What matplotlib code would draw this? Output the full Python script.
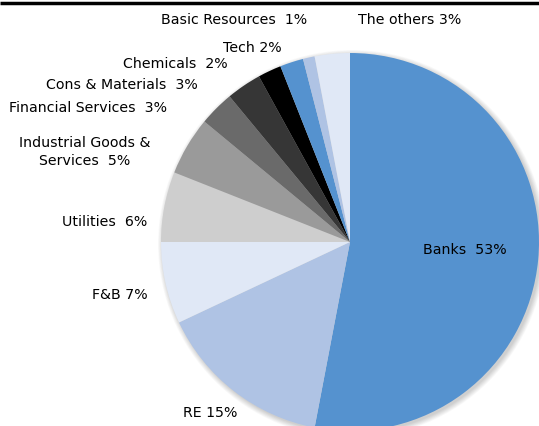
import matplotlib.pyplot as plt
from matplotlib.patches import Circle

# Sector weights, clockwise from 12 o'clock
sectors = ['Banks', 'RE', 'F&B', 'Utilities', 'Industrial Goods &\nServices',
           'Financial Services', 'Cons & Materials', 'Chemicals', 'Tech',
           'Basic Resources', 'The others']
weights = [53, 15, 7, 6, 5, 3, 3, 2, 2, 1, 3]
label_text = ['Banks  53%', 'RE 15%', 'F&B 7%', 'Utilities  6%',
              'Industrial Goods &\nServices  5%', 'Financial Services  3%',
              'Cons & Materials  3%', 'Chemicals  2%', 'Tech 2%',
              'Basic Resources  1%', 'The others 3%']
colors = ['#5592cf', '#afc3e4', '#e0e8f6', '#cecece', '#9a9a9a', '#6a6a6a',
          '#363636', '#000000', '#5592cf', '#afc3e4', '#e0e8f6']

W, H = 539, 427
fig = plt.figure(figsize=(W / 100, H / 100), dpi=100)
ax = fig.add_axes([0, 0, 1, 1])

cx, cy, r = 350, H - 243, 189

# soft drop shadow behind the pie
for k in range(8):
    ax.add_patch(Circle((cx + 2, cy - 2), r + 5 - k * 0.7, color='#000000',
                        alpha=0.022, lw=0, zorder=0))

ax.pie(weights, colors=colors, startangle=90, counterclock=False,
       center=(cx, cy), radius=r, frame=True,
       wedgeprops=dict(linewidth=0))
ax.set_xlim(0, W)
ax.set_ylim(0, H)
ax.set_aspect('equal')
ax.axis('off')

# label positions in pixel space (x, y from top)
label_pos = [(465, 250), (210, 413), (120, 295), (105, 222), (85, 152),
             (88, 108), (122, 85), (175, 64), (252, 48), (234, 20), (410, 20)]
for txt, (x, y) in zip(label_text, label_pos):
    ax.text(x, H - y, txt, ha='center', va='center', fontsize=10.2,
            family='DejaVu Sans', color='black', linespacing=1.3)

# header rule
ax.plot([0, W], [H - 4, H - 4], color='black', lw=2.5, solid_capstyle='butt',
        clip_on=False)

fig.savefig('out.png', dpi=100, facecolor='white')
